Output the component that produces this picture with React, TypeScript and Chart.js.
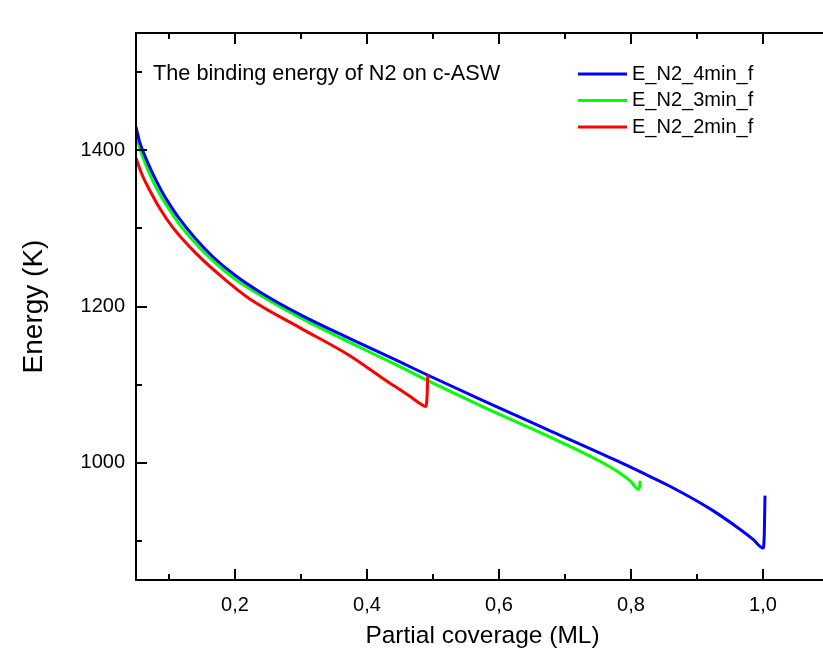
import React, { useEffect, useRef } from "react";
import { Chart, registerables } from "chart.js";
Chart.register(...registerables);

const seriesLabels = ["E_N2_4min_f", "E_N2_3min_f", "E_N2_2min_f"];
const seriesColors = ["#0000FF", "#00FF00", "#FF0000"];

const blueX = [0.05, 0.055, 0.06, 0.07, 0.08, 0.09, 0.1, 0.116, 0.14, 0.166, 0.2, 0.237, 0.298, 0.374, 0.45, 0.49, 0.58, 0.68, 0.78, 0.82, 0.859, 0.92, 0.965, 0.985, 1.0, 1.002, 1.003];
const blueY = [1430, 1412, 1400, 1380, 1362, 1346, 1332, 1312, 1287, 1264, 1240, 1219, 1190, 1159, 1129, 1113, 1078, 1040, 1002, 986, 970, 941, 915, 902, 891, 910, 958];

const greenX = [0.05, 0.055, 0.06, 0.07, 0.08, 0.09, 0.1, 0.116, 0.14, 0.166, 0.2, 0.237, 0.298, 0.374, 0.45, 0.49, 0.58, 0.68, 0.753, 0.783, 0.8, 0.811, 0.813, 0.814];
const greenY = [1421, 1405, 1392, 1371, 1353, 1338, 1325, 1305, 1281, 1259, 1235, 1215, 1186, 1154, 1123, 1106, 1070, 1032, 1002, 987, 976, 966, 970, 977];

const redX = [0.05, 0.055, 0.06, 0.07, 0.085, 0.105, 0.141, 0.18, 0.222, 0.298, 0.374, 0.424, 0.465, 0.482, 0.489, 0.491, 0.492];
const redY = [1390, 1378, 1367, 1350, 1327, 1302, 1268, 1238, 1210, 1173, 1137, 1108, 1085, 1075, 1072, 1085, 1112];

const xMajorTicks = [0.2, 0.4, 0.6, 0.8, 1.0];
const xMinorTicks = [0.1, 0.3, 0.5, 0.7, 0.9];
const yMajorTicks = [1000, 1200, 1400];
const yMinorTicks = [900, 1100, 1300, 1500];

const chartTitle = "The binding energy of N2 on c-ASW";
const xTitle = "Partial coverage (ML)";
const yTitle = "Energy (K)";

const W = 900;
const H = 662;

const zip = (xs: number[], ys: number[]) => xs.map((x, i) => ({ x, y: ys[i] }));

const framePlugin = {
  id: "frameTicks",
  afterDatasetsDraw(chart: any) {
    const { ctx, chartArea: a, scales } = chart;
    const xs = scales.x;
    const ys = scales.y;
    ctx.save();
    ctx.strokeStyle = "#000";
    ctx.lineWidth = 2;
    ctx.lineCap = "butt";
    ctx.strokeRect(a.left, a.top, a.right - a.left, a.bottom - a.top);
    const seg = (x1: number, y1: number, x2: number, y2: number) => {
      ctx.beginPath();
      ctx.moveTo(x1, y1);
      ctx.lineTo(x2, y2);
      ctx.stroke();
    };
    const xt = (vals: number[], len: number) => {
      vals.forEach((v) => {
        const p = Math.round(xs.getPixelForValue(v));
        seg(p, a.bottom, p, a.bottom - len);
        seg(p, a.top, p, a.top + len);
      });
    };
    const yt = (vals: number[], len: number) => {
      vals.forEach((v) => {
        const p = Math.round(ys.getPixelForValue(v));
        seg(a.left, p, a.left + len, p);
      });
    };
    xt(xMajorTicks, 11);
    xt(xMinorTicks, 6);
    yt(yMajorTicks, 11);
    yt(yMinorTicks, 6);

    ctx.fillStyle = "#000";
    ctx.textBaseline = "middle";
    ctx.textAlign = "left";
    ctx.font = "21.7px 'Liberation Sans', Arial, sans-serif";
    ctx.fillText(chartTitle, a.left + 17, a.top + 41);

    ctx.font = "20px 'Liberation Sans', Arial, sans-serif";
    chart.data.datasets.forEach((ds: any, i: number) => {
      const cy = a.top + 41 + i * 26.5;
      ctx.strokeStyle = ds.borderColor;
      ctx.lineWidth = 3;
      seg(a.left + 442, cy, a.left + 491, cy);
      ctx.fillStyle = "#000";
      ctx.fillText(ds.label, a.left + 496, cy);
    });
    ctx.restore();
  },
};

export default function App() {
  const ref = useRef<HTMLCanvasElement>(null);
  useEffect(() => {
    if (!ref.current) return;
    const tickFont = { family: "'Liberation Sans', Arial, sans-serif", size: 20 };
    const chart = new Chart(ref.current, {
      type: "line",
      data: {
        datasets: [
          { label: seriesLabels[0], data: zip(blueX, blueY), borderColor: seriesColors[0], order: 1 },
          { label: seriesLabels[1], data: zip(greenX, greenY), borderColor: seriesColors[1], order: 2 },
          { label: seriesLabels[2], data: zip(redX, redY), borderColor: seriesColors[2], order: 0 },
        ].map((d) => ({
          ...d,
          borderWidth: 3,
          pointRadius: 0,
          fill: false,
          cubicInterpolationMode: "monotone" as const,
          backgroundColor: d.borderColor,
        })),
      },
      options: {
        animation: false,
        responsive: false,
        devicePixelRatio: 1,
        layout: { padding: { left: 0, top: 33, right: W - 829, bottom: 0 } },
        plugins: { legend: { display: false }, tooltip: { enabled: false }, title: { display: false } },
        scales: {
          x: {
            type: "linear",
            min: 0.05,
            max: 1.1,
            grid: { display: false, drawTicks: false },
            border: { display: false },
            afterBuildTicks: (s: any) => {
              s.ticks = xMajorTicks.map((v) => ({ value: v }));
            },
            afterFit: (s: any) => {
              s.height = H - 580;
            },
            ticks: {
              color: "#000",
              padding: 13,
              maxRotation: 0,
              autoSkip: false,
              font: tickFont,
              callback: (v: any) => Number(v).toFixed(1).replace(".", ","),
            },
            title: {
              display: true,
              text: xTitle,
              color: "#000",
              font: { family: "'Liberation Sans', Arial, sans-serif", size: 24.5 },
              padding: { top: 0, bottom: 11 },
            },
          },
          y: {
            type: "linear",
            min: 850,
            max: 1550,
            grid: { display: false, drawTicks: false },
            border: { display: false },
            afterBuildTicks: (s: any) => {
              s.ticks = yMajorTicks.map((v) => ({ value: v }));
            },
            afterFit: (s: any) => {
              s.width = 136;
            },
            ticks: {
              color: "#000",
              padding: 11,
              autoSkip: false,
              font: tickFont,
              callback: (v: any) => String(v),
            },
            title: {
              display: true,
              text: yTitle,
              color: "#000",
              font: { family: "'Liberation Sans', Arial, sans-serif", size: 28 },
              padding: { top: 17, bottom: 0 },
            },
          },
        },
      },
      plugins: [framePlugin],
    });
    return () => chart.destroy();
  }, []);
  return (
    <div style={{ position: "fixed", left: 0, top: 0, width: 823, height: 662, overflow: "hidden", background: "#fff" }}>
      <canvas ref={ref} width={W} height={H} style={{ display: "block" }} />
    </div>
  );
}
